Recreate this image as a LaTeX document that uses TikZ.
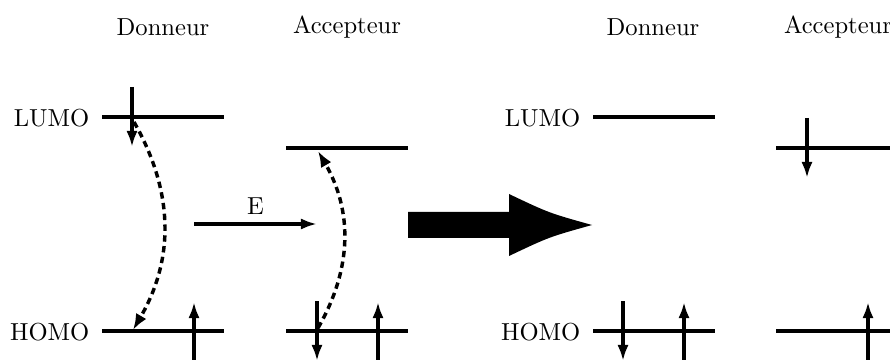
\documentclass[tikz,border=0pt]{standalone}
\usepackage{amsmath}
\usepackage{tikz}
\usetikzlibrary{arrows.meta}

\begin{document}
\begin{tikzpicture}[x=0.0143cm,y=-0.0143cm]
	\tikzstyle{level}=[line width=1.4pt]
	\tikzstyle{spin}=[line width=1.4pt,-{Latex[length=2.3mm,width=1.6mm]}]
	\tikzstyle{transfer}=[line width=1.4pt,dash pattern=on 2.6pt off 1.8pt,-{Latex[length=2.3mm,width=1.7mm]}]
	\useasboundingbox (0,0) rectangle (890,360);
	% titles
		\node (don1) at (163,27) {Donneur};
		\node (acc1) at (347,27) {Accepteur};
		\node (don2) at (653,27) {Donneur};
		\node (acc2) at (838,27) {Accepteur};
	% before the transfer
		\node[anchor=east] (lumo1) at (98,118) {LUMO};
		\node[anchor=east] (homo1) at (98,332) {HOMO};
		\coordinate (dL1) at (102,117);
		\coordinate (aL1) at (286,148);
		\coordinate (dH1) at (102,331);
		\coordinate (aH1) at (286,331);
			\draw[level] (dL1) -- ++(122,0);
			\draw[level] (aL1) -- ++(122,0);
			\draw[level] (dH1) -- ++(122,0);
			\draw[level] (aH1) -- ++(122,0);
			\draw[spin] (132,87) -- (132,147);
			\draw[spin] (194,360) -- (194,302);
			\draw[spin] (317,301) -- (317,361);
			\draw[spin] (378,360) -- (378,302);
		\coordinate (t1s) at (134,122);
		\coordinate (t1e) at (133,330);
		\coordinate (t2s) at (318,328);
		\coordinate (t2e) at (318,151);
			\draw[transfer] (t1s) to[bend left=30] (t1e);
			\draw[transfer] (t2s) to[bend right=30] (t2e);
		\coordinate (Es) at (194,224);
		\coordinate (Ee) at (317,224);
			\draw[spin] (Es) -- node[above] (E) {E} (Ee);
	% big arrow
			\fill (408,212) -- (509,212) -- (509,194) .. controls (549,213) .. (592,225)
				.. controls (549,237) .. (509,256) -- (509,238) -- (408,238) -- cycle;
	% after the transfer
		\node[anchor=east] (lumo2) at (589,118) {LUMO};
		\node[anchor=east] (homo2) at (589,332) {HOMO};
		\coordinate (dL2) at (593,117);
		\coordinate (aL2) at (776,148);
		\coordinate (dH2) at (593,331);
		\coordinate (aH2) at (776,331);
			\draw[level] (dL2) -- ++(122,0);
			\draw[level] (aL2) -- ++(122,0);
			\draw[level] (dH2) -- ++(122,0);
			\draw[level] (aH2) -- ++(122,0);
			\draw[spin] (623,301) -- (623,361);
			\draw[spin] (684,360) -- (684,302);
			\draw[spin] (807,118) -- (807,178);
			\draw[spin] (868,360) -- (868,302);
\end{tikzpicture}
\end{document}
